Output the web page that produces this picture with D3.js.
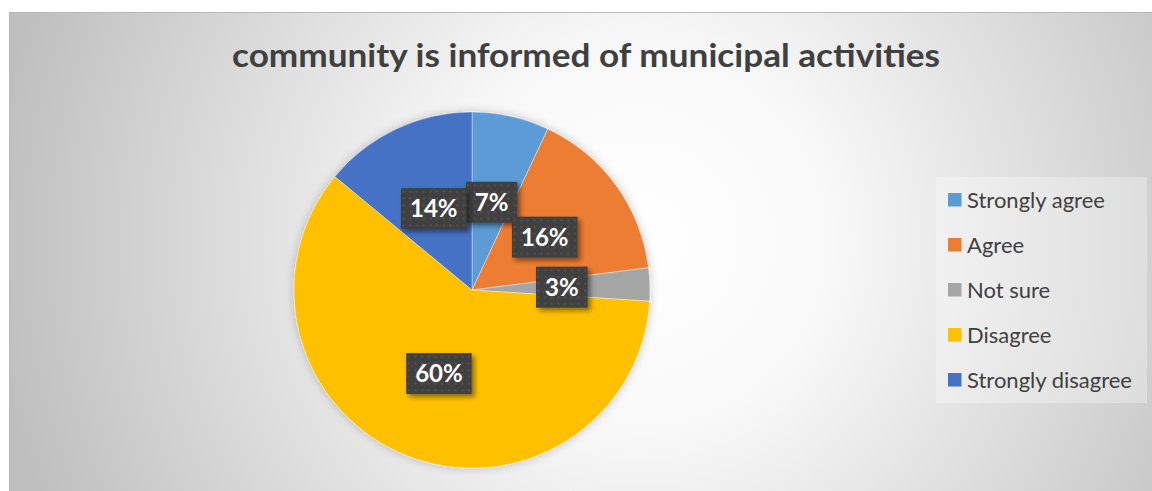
<!DOCTYPE html>
<html>
<head>
<meta charset="utf-8">
<script src="https://cdn.jsdelivr.net/npm/d3@7"></script>
<style>
  html, body { margin: 0; padding: 0; background: #ffffff; }
  svg { display: block; }
</style>
</head>
<body>
<svg id="chart" width="1152" height="491"></svg>
<script>
// Survey responses: "community is informed of municipal activities"
const categories = ["Strongly agree", "Agree", "Not sure", "Disagree", "Strongly disagree"];
const percents = [7, 16, 3, 60, 14];
const colors = ["#5B9BD5", "#ED7D31", "#A5A5A5", "#FFC000", "#4472C4"];
const titleText = "community is informed of municipal activities";

const W = 1152, H = 491;
const svg = d3.select("#chart");
const defs = svg.append("defs");

// Backdrop: radial grey-to-white fill
const bg = defs.append("radialGradient")
  .attr("id", "bgGrad")
  .attr("gradientUnits", "userSpaceOnUse")
  .attr("cx", 640).attr("cy", 240).attr("r", 650);
bg.append("stop").attr("offset", 0).attr("stop-color", "#ffffff");
bg.append("stop").attr("offset", 0.3).attr("stop-color", "#f8f8f8");
bg.append("stop").attr("offset", 1).attr("stop-color", "#bfbfbf");

// Soft halo under the pie
const pieShadow = defs.append("filter").attr("id", "pieShadow")
  .attr("x", "-20%").attr("y", "-20%").attr("width", "140%").attr("height", "140%");
pieShadow.append("feDropShadow")
  .attr("dx", 0).attr("dy", 0).attr("stdDeviation", 5)
  .attr("flood-color", "#000").attr("flood-opacity", 0.22);

// Label box shadow
const boxShadow = defs.append("filter").attr("id", "boxShadow")
  .attr("x", "-30%").attr("y", "-30%").attr("width", "170%").attr("height", "170%");
boxShadow.append("feDropShadow")
  .attr("dx", 3).attr("dy", 3).attr("stdDeviation", 2.5)
  .attr("flood-color", "#000").attr("flood-opacity", 0.45);

// Dotted texture for label boxes
const pat = defs.append("pattern").attr("id", "dots")
  .attr("patternUnits", "userSpaceOnUse")
  .attr("width", 6.7).attr("height", 6.7);
pat.append("rect").attr("width", 6.7).attr("height", 6.7).attr("fill", "#404040");
pat.append("circle").attr("cx", 3.3).attr("cy", 3.3).attr("r", 1.1).attr("fill", "#555555");

// Chart area
svg.append("rect")
  .attr("x", 9.5).attr("y", 12.5)
  .attr("width", W).attr("height", H)
  .attr("fill", "url(#bgGrad)")
  .attr("stroke", "#b8b8b8").attr("stroke-width", 1);

// Title
svg.append("text")
  .attr("x", 586).attr("y", 67)
  .attr("text-anchor", "middle")
  .attr("font-family", "Lato, 'Open Sans', sans-serif")
  .attr("font-weight", "bold")
  .attr("font-size", 33)
  .attr("fill", "#404040")
  .attr("textLength", 708)
  .attr("lengthAdjust", "spacingAndGlyphs")
  .text(titleText);

// Pie
const cx = 472, cy = 290, R = 178;
const data = categories.map((c, i) => ({ name: c, value: percents[i], color: colors[i] }));
const pie = d3.pie().sort(null).value(d => d.value).startAngle(0).endAngle(2 * Math.PI);
const arcs = pie(data);
const arc = d3.arc().innerRadius(0).outerRadius(R);
const labelArc = d3.arc().innerRadius(R * 0.505).outerRadius(R * 0.505);

const g = svg.append("g").attr("transform", `translate(${cx},${cy})`);
g.append("g").attr("filter", "url(#pieShadow)")
  .selectAll("path")
  .data(arcs)
  .join("path")
  .attr("d", arc)
  .attr("fill", d => d.data.color)
  .attr("stroke", "#ffffff")
  .attr("stroke-width", 0.4);

// Data labels
const labels = g.append("g").selectAll("g")
  .data(arcs)
  .join("g")
  .attr("transform", d => `translate(${labelArc.centroid(d)})`);

labels.each(function (d) {
  const grp = d3.select(this);
  const box = grp.append("rect").attr("fill", "url(#dots)").attr("filter", "url(#boxShadow)");
  const t = grp.append("text")
    .attr("text-anchor", "middle")
    .attr("dy", "0.36em")
    .attr("font-family", "Lato, 'Open Sans', sans-serif")
    .attr("font-weight", "bold")
    .attr("font-size", 24)
    .attr("fill", "#ffffff")
    .text(d.data.value + "%");
  const w = t.node().getComputedTextLength() + 18;
  const h = 41;
  box.attr("x", -w / 2).attr("y", -h / 2).attr("width", w).attr("height", h);
});

// Legend
const lg = svg.append("g");
lg.append("rect")
  .attr("x", 936).attr("y", 177).attr("width", 211).attr("height", 226)
  .attr("fill", "#ffffff").attr("fill-opacity", 0.3);

const item = lg.selectAll("g.item")
  .data(data)
  .join("g")
  .attr("class", "item")
  .attr("transform", (d, i) => `translate(948,${200 + i * 45})`);
item.append("rect")
  .attr("x", 0).attr("y", -7).attr("width", 13.5).attr("height", 13.5)
  .attr("fill", d => d.color);
item.append("text")
  .attr("x", 19).attr("y", 0).attr("dy", "0.36em")
  .attr("font-family", "Lato, 'Open Sans', sans-serif")
  .attr("font-size", 22)
  .attr("fill", "#404040")
  .text(d => d.name);
</script>
</body>
</html>
